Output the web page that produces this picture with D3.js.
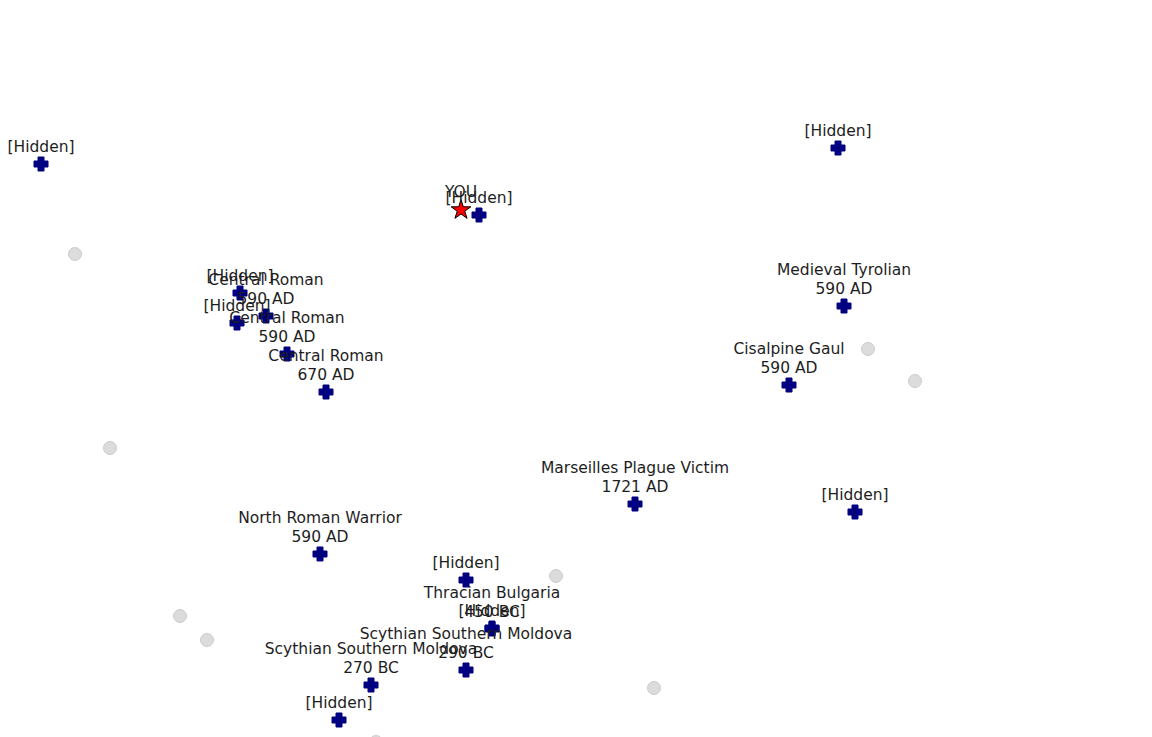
<!DOCTYPE html>
<html>
<head>
<meta charset="utf-8">
<script src="https://cdn.jsdelivr.net/npm/d3@7"></script>
<style>
  html, body { margin: 0; padding: 0; background: #fff; }
  svg { display: block; }
  text { font-family: "DejaVu Sans", sans-serif; font-size: 15.5px; fill: #1e1e1e; }
</style>
</head>
<body>
<svg id="chart" width="1152" height="737"></svg>
<script>
// Reference samples (PCA-style coordinates)
const sampleLabels = [
  "[Hidden]", "[Hidden]", "[Hidden]", "[Hidden]",
  "Central Roman\n590 AD", "[Hidden]", "Central Roman\n590 AD", "Central Roman\n670 AD",
  "Medieval Tyrolian\n590 AD", "Cisalpine Gaul\n590 AD", "Marseilles Plague Victim\n1721 AD",
  "[Hidden]", "North Roman Warrior\n590 AD", "[Hidden]", "Thracian Bulgaria\n450 BC",
  "[Hidden]", "Scythian Southern Moldova\n290 BC", "Scythian Southern Moldova\n270 BC", "[Hidden]"
];
const sampleX = [4.1, 47.9, 83.8, 24.0, 26.6, 23.7, 28.7, 32.6, 84.4, 78.9, 63.5, 85.5, 32.0, 46.6, 49.2, 49.2, 46.6, 37.1, 33.9];
const sampleY = [57.3, 52.2, 58.9, 44.4, 42.1, 41.4, 38.3, 34.5, 43.1, 35.2, 23.3, 22.5, 18.3, 15.7, 10.8, 10.9, 6.7, 5.2, 1.7];

// Background (unlabelled) samples
const bgX = [7.5, 11.0, 18.0, 20.7, 55.6, 65.4, 86.8, 91.5, 37.6];
const bgY = [48.3, 28.9, 12.1, 9.7, 16.1, 4.9, 38.8, 35.6, -0.5];

// User position
const youLabel = "YOU";
const youX = [46.1];
const youY = [52.7];

const W = 1152, H = 737;
const svg = d3.select("#chart");
const x = d3.scaleLinear().domain([0, 115.2]).range([0, W]);
const y = d3.scaleLinear().domain([0, 73.7]).range([H, 0]);

// background circles
svg.append("g").selectAll("circle")
  .data(bgX.map((v, i) => ({x: v, y: bgY[i]})))
  .join("circle")
  .attr("cx", d => x(d.x)).attr("cy", d => y(d.y)).attr("r", 6.5)
  .attr("fill", "#dcdcdc").attr("stroke", "#cccccc").attr("stroke-width", 1);

// filled plus path
const s = 7, a = 3;
const plusPath = `M${-a},${-s}H${a}V${-a}H${s}V${a}H${a}V${s}H${-a}V${a}H${-s}V${-a}H${-a}Z`;

const samples = sampleX.map((v, i) => ({x: v, y: sampleY[i], label: sampleLabels[i]}));

svg.append("g").selectAll("path")
  .data(samples)
  .join("path")
  .attr("d", plusPath)
  .attr("transform", d => `translate(${x(d.x)},${y(d.y)})`)
  .attr("fill", "#000080").attr("stroke", "#000080").attr("stroke-width", 1)
  .attr("stroke-linejoin", "round");

// star for YOU
const star = d3.symbol().type(d3.symbolStar).size(120);
svg.append("g").selectAll("path")
  .data(youX.map((v, i) => ({x: v, y: youY[i]})))
  .join("path")
  .attr("d", star)
  .attr("transform", d => `translate(${x(d.x)},${y(d.y)})`)
  .attr("fill", "#ff0000").attr("stroke", "#000").attr("stroke-width", 1);

// labels
const lineH = 19;
const lab = svg.append("g").selectAll("text")
  .data(samples)
  .join("text")
  .attr("text-anchor", "middle")
  .attr("x", d => x(d.x))
  .attr("y", d => y(d.y));
lab.each(function(d) {
  const lines = d.label.split("\n");
  const t = d3.select(this);
  lines.forEach((ln, j) => {
    t.append("tspan")
      .attr("x", x(d.x))
      .attr("y", y(d.y) - 12 - (lines.length - 1 - j) * lineH)
      .text(ln);
  });
});

svg.append("text")
  .attr("text-anchor", "middle")
  .attr("x", x(youX[0]))
  .attr("y", y(youY[0]) - 13)
  .text(youLabel);
</script>
</body>
</html>
